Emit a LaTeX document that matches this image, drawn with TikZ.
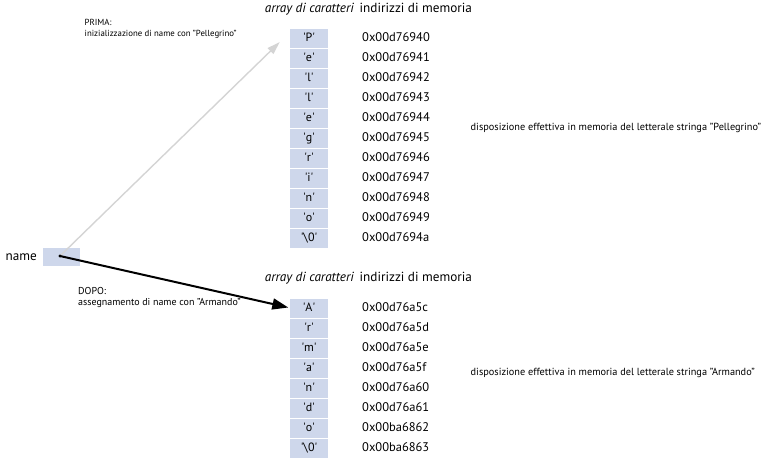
\documentclass[tikz,border=0pt]{standalone}
\usepackage{fontspec}
\setmainfont{PT Sans}
\usetikzlibrary{arrows.meta,positioning,calc}

\definecolor{cellblue}{RGB}{206,215,235}
\definecolor{oldptr}{RGB}{212,212,212}
\newcommand{\chr}[1]{\textquotesingle#1\textquotesingle}

\begin{document}
\begin{tikzpicture}[x=1pt,y=-1pt]
    \tikzset{cell/.style={fill=cellblue, minimum width=38pt, minimum height=18.5pt, inner sep=0pt,
                          text height=8pt, text depth=2.5pt, font=\fontsize{12}{13}\selectfont},
             addr/.style={anchor=west, inner sep=0pt, text height=8pt, text depth=2.5pt,
                          font=\fontsize{12.5}{13}\selectfont},
             head/.style={inner sep=0pt, font=\fontsize{13.2}{15}\selectfont},
             note/.style={inner sep=0pt, align=left, font=\fontsize{10.3}{11}\selectfont}}
    \useasboundingbox (0,0) rectangle (766,464);

    % puntatore name
    \node[cell, minimum width=37.5pt] (namebox) at (61.5,257) {};
    \node[head, anchor=base east] (namelbl) at (37,260.7) {name};
    \coordinate (ptr) at (60,256);

    % PRIMA: "Pellegrino"
    \begin{scope}
        \node[head, anchor=base east, font=\fontsize{13.2}{15}\selectfont\itshape] (arrhead1) at (354,12.5) {array di caratteri};
        \node[head, anchor=base west] (addrhead1) at (359.5,12.5) {indirizzi di memoria};
        \node[cell] (p0) at (309,38.5) {\chr{P}};   \node[addr] (pa0) at (362,38.5) {0x00d76940};
        \node[cell] (p1) at (309,58.5) {\chr{e}};   \node[addr] (pa1) at (362,58.5) {0x00d76941};
        \node[cell] (p2) at (309,78.5) {\chr{l}};   \node[addr] (pa2) at (362,78.5) {0x00d76942};
        \node[cell] (p3) at (309,98.5) {\chr{l}};   \node[addr] (pa3) at (362,98.5) {0x00d76943};
        \node[cell] (p4) at (309,118.5) {\chr{e}};  \node[addr] (pa4) at (362,118.5) {0x00d76944};
        \node[cell] (p5) at (309,138.5) {\chr{g}};  \node[addr] (pa5) at (362,138.5) {0x00d76945};
        \node[cell] (p6) at (309,158.5) {\chr{r}};  \node[addr] (pa6) at (362,158.5) {0x00d76946};
        \node[cell] (p7) at (309,178.5) {\chr{i}};  \node[addr] (pa7) at (362,178.5) {0x00d76947};
        \node[cell] (p8) at (309,198.5) {\chr{n}};  \node[addr] (pa8) at (362,198.5) {0x00d76948};
        \node[cell] (p9) at (309,218.5) {\chr{o}};  \node[addr] (pa9) at (362,218.5) {0x00d76949};
        \node[cell] (p10) at (309,238.5) {\chr{\textbackslash 0}}; \node[addr] (pa10) at (362,238.5) {0x00d7694a};
        \node[note, anchor=base west] (disp1) at (470.5,130) {disposizione effettiva in memoria del letterale stringa "Pellegrino"};
        \node[note, anchor=base west, font=\fontsize{8.8}{11}\selectfont] (prima) at (84.5,36) {PRIMA:\\inizializzazione di name con "Pellegrino"};
        \coordinate (primatip) at ($(p0.west)+(-10,3.5)$);
    \end{scope}

    % DOPO: "Armando"
    \begin{scope}
        \node[head, anchor=base east, font=\fontsize{13.2}{15}\selectfont\itshape] (arrhead2) at (354,281.5) {array di caratteri};
        \node[head, anchor=base west] (addrhead2) at (359.5,281.5) {indirizzi di memoria};
        \node[cell] (a0) at (309,308.5) {\chr{A}};  \node[addr] (aa0) at (362,308.5) {0x00d76a5c};
        \node[cell] (a1) at (309,328.5) {\chr{r}};  \node[addr] (aa1) at (362,328.5) {0x00d76a5d};
        \node[cell] (a2) at (309,348.5) {\chr{m}};  \node[addr] (aa2) at (362,348.5) {0x00d76a5e};
        \node[cell] (a3) at (309,368.5) {\chr{a}};  \node[addr] (aa3) at (362,368.5) {0x00d76a5f};
        \node[cell] (a4) at (309,388.5) {\chr{n}};  \node[addr] (aa4) at (362,388.5) {0x00d76a60};
        \node[cell] (a5) at (309,408.5) {\chr{d}};  \node[addr] (aa5) at (362,408.5) {0x00d76a61};
        \node[cell] (a6) at (309,428.5) {\chr{o}};  \node[addr] (aa6) at (362,428.5) {0x00ba6862};
        \node[cell] (a7) at (309,448.5) {\chr{\textbackslash 0}}; \node[addr] (aa7) at (362,448.5) {0x00ba6863};
        \node[note, anchor=base west] (disp2) at (470.5,375) {disposizione effettiva in memoria del letterale stringa "Armando"};
        \node[note, anchor=base west, font=\fontsize{10}{11}\selectfont] (dopo) at (78,305.5) {DOPO:\\assegnamento di name con "Armando"};
        \coordinate (dopotip) at ($(a0.west)+(-1.5,-1)$);
    \end{scope}

    % frecce
    \draw[oldptr, line width=1.4pt, -{Triangle[length=13pt, width=8pt]}] (ptr) -- (primatip);
    \draw[black, line width=2pt, -{Triangle[length=16pt, width=11pt]}] (ptr) -- (dopotip);
    \fill (ptr) circle (1.6pt);
\end{tikzpicture}
\end{document}
